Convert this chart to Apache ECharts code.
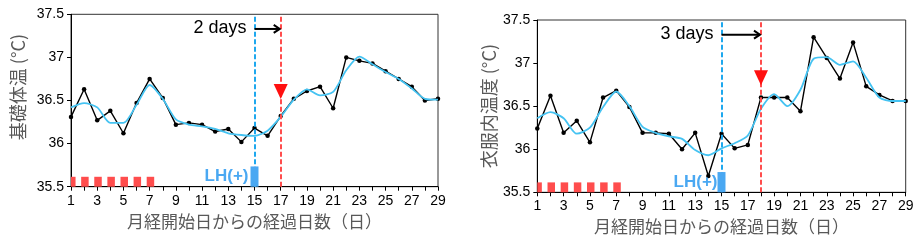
<!DOCTYPE html>
<html>
<head>
<meta charset="utf-8">
<script src="https://cdn.jsdelivr.net/npm/echarts@6/dist/echarts.min.js"></script>
<style>
html,body{margin:0;padding:0;background:#fff;}
#c{width:920px;height:242px;}
</style>
</head>
<body>
<div id="c"></div>
<script>
// ---- data ----
const days = [1,2,3,4,5,6,7,8,9,10,11,12,13,14,15,16,17,18,19,20,21,22,23,24,25,26,27,28,29];
const bbtRaw = [36.31,36.63,36.27,36.38,36.12,36.47,36.75,36.53,36.22,36.24,36.22,36.14,36.17,36.02,36.18,36.09,36.32,36.52,36.61,36.66,36.41,37.00,36.96,36.93,36.84,36.75,36.66,36.50,36.52];
const bbtSmooth = [36.42,36.47,36.42,36.24,36.24,36.45,36.68,36.52,36.28,36.22,36.20,36.17,36.12,36.10,36.09,36.15,36.31,36.51,36.63,36.56,36.60,36.85,37.01,36.92,36.83,36.75,36.64,36.52,36.51];
const clothRaw = [36.24,36.62,36.19,36.33,36.08,36.60,36.68,36.49,36.19,36.19,36.18,36.00,36.19,35.69,36.18,36.01,36.05,36.60,36.60,36.60,36.44,37.30,37.06,36.82,37.24,36.73,36.63,36.56,36.56];
const clothSmooth = [36.36,36.43,36.36,36.18,36.25,36.49,36.67,36.50,36.26,36.19,36.15,36.12,35.99,35.93,36.01,36.07,36.16,36.47,36.64,36.50,36.69,37.05,37.07,36.98,37.02,36.83,36.60,36.56,36.56];
const mensDays = [1,2,3,4,5,6,7];
const mensLevel = 35.615;
const lhDay = 15;
const lhLevel = 35.735;
const leftRiseDay = 17;
const rightRiseDay = 18;
const leftTriangleY = 36.605;
const rightTriangleY = 36.83;
const arrowY = 37.33;
const leftShiftText = '2 days';
const rightShiftText = '3 days';
const yTicks = [35.5, 36, 36.5, 37, 37.5];
const xTitle = '月経開始日からの経過日数（日）';
const leftYTitle = '基礎体温 (°C)';
const rightYTitle = '衣服内温度 (°C)';
const lhText = 'LH(+)';

// ---- style ----
const FONT = "'Liberation Sans', Arial, 'Noto Sans CJK JP', sans-serif";
const CJK = "'Noto Sans CJK JP', 'Liberation Sans', sans-serif";
const RED = '#ff4d4d';
const BLUE_DASH = '#1ea8ee';
const BLUE_LINE = '#45c3f2';
const LH_BLUE = '#4aa8f2';

const chart = echarts.init(document.getElementById('c'), null, {renderer:'canvas'});

function xAxisFor(gi, gap) {
  return {
    type:'value', gridIndex:gi, min:days[0], max:days[days.length-1], interval:1,
    name:xTitle, nameLocation:'middle', nameGap:gap,
    nameTextStyle:{fontFamily:CJK, fontSize:17, color:'#595959'},
    axisLine:{show:true, lineStyle:{color:'#000', width:1}},
    axisTick:{show:true, inside:false, length:4, lineStyle:{color:'#000'}},
    axisLabel:{fontFamily:FONT, fontSize:14, color:'#000', margin:7,
      formatter:function(v){return (v % 2 === 1) ? String(v) : '';}},
    splitLine:{show:false}
  };
}
function yAxisFor(gi, title, gap, pad) {
  return {
    type:'value', gridIndex:gi, min:yTicks[0], max:yTicks[yTicks.length-1], interval:0.5,
    name:title, nameLocation:'middle', nameGap:gap, nameRotate:90,
    nameTextStyle:{fontFamily:CJK, fontSize:18, color:'#595959', padding:pad},
    axisLine:{show:true, lineStyle:{color:'#000', width:1}},
    axisTick:{show:true, inside:false, length:4, lineStyle:{color:'#000'}},
    axisLabel:{fontFamily:FONT, fontSize:14, color:'#000', margin:7},
    splitLine:{show:false}
  };
}

function pairs(vals){ return days.map((d,i)=>[d, vals[i]]); }

function arrowSeries(gi, fromDay, toDay, txt) {
  return {
    type:'custom', xAxisIndex:gi, yAxisIndex:gi, z:6, silent:true,
    data:[[fromDay, toDay, arrowY]],
    encode:{x:[0,1], y:2},
    renderItem:function(params, api){
      const p1 = api.coord([api.value(0), api.value(2)]);
      const p2 = api.coord([api.value(1), api.value(2)]);
      return {type:'group', children:[
        {type:'line', shape:{x1:p1[0], y1:p1[1], x2:p2[0]-1, y2:p2[1]}, style:{stroke:'#000', lineWidth:2}},
        {type:'polyline', shape:{points:[[p2[0]-7,p2[1]-4],[p2[0]-1,p2[1]],[p2[0]-7,p2[1]+4]]}, style:{stroke:'#000', lineWidth:2, fill:null}},
        {type:'text', x:p1[0]-8, y:p1[1]-1, style:{text:txt, align:'right', verticalAlign:'middle', font:'18px ' + FONT, fill:'#000'}}
      ]};
    }
  };
}

function squaresSeries(gi) {
  return {
    type:'custom', xAxisIndex:gi, yAxisIndex:gi, z:5, silent:true,
    data:mensDays.map(d => [d, mensLevel]),
    encode:{x:0, y:1},
    renderItem:function(params, api){
      const top = api.coord([api.value(0), api.value(1)]);
      const base = api.coord([api.value(0), yTicks[0]]);
      const w = 7.5;
      const shape = echarts.graphic.clipRectByRect(
        {x:top[0]-w/2+0.8, y:top[1], width:w, height:base[1]-top[1]},
        {x:params.coordSys.x, y:params.coordSys.y, width:params.coordSys.width, height:params.coordSys.height}
      );
      return shape && {type:'rect', shape:shape, style:{fill:RED}};
    }
  };
}

function panelSeries(gi, raw, smooth, riseDay, triY, shiftTxt, lhDist) {
  return [
    {
      type:'line', xAxisIndex:gi, yAxisIndex:gi, z:3, data:pairs(raw),
      symbol:'circle', symbolSize:4.5, showSymbol:true,
      itemStyle:{color:'#000'}, lineStyle:{color:'#000', width:1.4},
      silent:true, animation:false,
      markLine:{
        silent:true, symbol:'none', animation:false, label:{show:false},
        data:[
          {xAxis:lhDay, lineStyle:{color:BLUE_DASH, type:[5,2.5], width:2}},
          {xAxis:riseDay, lineStyle:{color:RED, type:[5,2.5], width:2}}
        ]
      },
      markPoint:{
        silent:true, animation:false, label:{show:false},
        data:[{coord:[riseDay, triY], symbol:'triangle', symbolRotate:180, symbolSize:[14,15], itemStyle:{color:'#ff1010'}}]
      }
    },
    {
      type:'line', xAxisIndex:gi, yAxisIndex:gi, z:4, data:pairs(smooth),
      smooth:0.25, symbol:'none', lineStyle:{color:BLUE_LINE, width:1.8},
      silent:true, animation:false
    },
    {
      type:'bar', xAxisIndex:gi, yAxisIndex:gi, z:5, barWidth:8,
      data:[{value:[lhDay, lhLevel],
        label:{show:true, position:'left', distance:lhDist, formatter:lhText,
          fontFamily:FONT, fontSize:17, fontWeight:'bold', color:LH_BLUE}}],
      itemStyle:{color:LH_BLUE}, silent:true, animation:false
    },
    squaresSeries(gi),
    arrowSeries(gi, lhDay, riseDay, shiftTxt)
  ];
}

const option = {
  animation:false,
  textStyle:{fontFamily:FONT},
  grid:[
    {left:71, top:14.3, width:367, height:172.4, show:true, borderColor:'#333', borderWidth:1, containLabel:false},
    {left:537.3, top:20, width:368.4, height:172.3, show:true, borderColor:'#333', borderWidth:1, containLabel:false}
  ],
  xAxis:[ xAxisFor(0, 25), xAxisFor(1, 26) ],
  yAxis:[ yAxisFor(0, leftYTitle, 44, [0,0,0,27]), yAxisFor(1, rightYTitle, 39, [0,0,0,0]) ],
  series:[].concat(
    panelSeries(0, bbtRaw, bbtSmooth, leftRiseDay, leftTriangleY, leftShiftText, 2),
    panelSeries(1, clothRaw, clothSmooth, rightRiseDay, rightTriangleY, rightShiftText, 0)
  )
};
chart.setOption(option);
</script>
</body>
</html>
